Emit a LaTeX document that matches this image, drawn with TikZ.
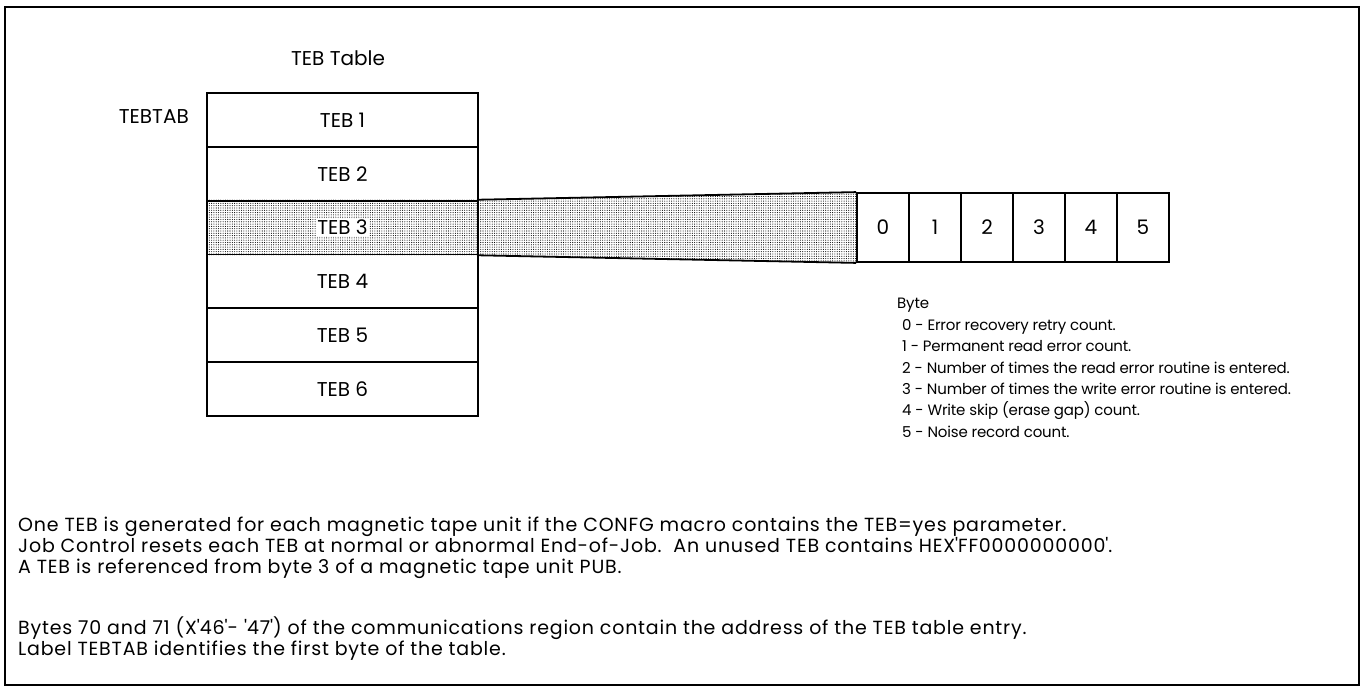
\documentclass[tikz,border=0pt]{standalone}
\usepackage{fontspec}
\setmainfont{Poppins}
\newfontfamily\notesfont{Poppins}[LetterSpace=4.2]
\newfontfamily\legendfont{Poppins}[LetterSpace=-1.2]
\usetikzlibrary{patterns.meta}
\begin{document}
\begin{tikzpicture}[x=1pt,y=-1pt,
  font=\fontsize{20}{23}\selectfont,
  frame/.style={line width=2.4pt},
  rule/.style={line width=1.8pt},
  row/.style={draw, rule, minimum width=271pt, minimum height=53.8pt, inner sep=0pt},
  cell/.style={draw, rule, minimum width=52pt, minimum height=69pt, inner sep=0pt},
  txt/.style={anchor=base west, inner sep=0pt},
  note/.style={txt, font=\notesfont\fontsize{19}{22}\selectfont},
  legend/.style={txt, font=\legendfont\fontsize{15}{18}\selectfont},
  dotfill/.style={pattern={Dots[distance=2.3pt,radius=0.55pt]}, pattern color=black}]
  \useasboundingbox (0,0) rectangle (1364,691);
  \draw[frame] (5,7) rectangle (1359,685);

  % table title and label
  \node (title) at (338,58) {TEB Table};
  \node[anchor=east, inner sep=0pt] (tebtab) at (189,117) {TEBTAB};

  % byte cells of the expanded entry
  \foreach \i in {0,...,5} {
    \node[cell] (b\i) at ({883+52*\i},227.5) {};
  }

  % table rows
  \foreach \i in {1,...,6} {
    \node[row] (t\i) at (342.5,{93+53.8*(\i-0.5)}) {};
  }

  % expansion of TEB 3 into its bytes
  \fill[dotfill] (t3.south west) rectangle (t3.north east);
  \fill[dotfill] (t3.north east) -- (b0.north west) -- (b0.south west) -- (t3.south east) -- cycle;
  \draw[rule] (t3.north east) -- (b0.north west);
  \draw[rule] (t3.south east) -- (b0.south west);
  \foreach \i in {1,...,6} { \node[row] at (t\i) {}; }
  \foreach \i in {0,...,5} { \node[cell] at (b\i) {}; }

  \foreach \i in {1,2,4,5,6} { \node at (t\i) {TEB \i}; }
  \node[fill=white, inner sep=1.5pt] (t3label) at (t3) {TEB 3};
  \foreach \i in {0,...,5} { \node at (b\i) {\i}; }

  % byte legend
  \node[legend] (byte) at (897,308) {Byte};
  \node[legend] (l0) at (902,330) {0 - Error recovery retry count.};
  \node[legend] (l1) at (902,351) {1 - Permanent read error count.};
  \node[legend] (l2) at (902,373) {2 - Number of times the read error routine is entered.};
  \node[legend] (l3) at (902,394) {3 - Number of times the write error routine is entered.};
  \node[legend] (l4) at (902,415) {4 - Write skip (erase gap) count.};
  \node[legend] (l5) at (902,437) {5 - Noise record count.};

  % notes
  \node[note] (n1) at (18,531) {One TEB is generated for each magnetic tape unit if the CONFG macro contains the TEB=yes parameter.};
  \node[note] (n2) at (18,552) {Job Control resets each TEB at normal or abnormal End-of-Job.\ \ An unused TEB contains HEX\textquotesingle FF0000000000\textquotesingle.};
  \node[note] (n3) at (18,573) {A TEB is referenced from byte 3 of a magnetic tape unit PUB.};
  \node[note] (n4) at (18,634) {Bytes 70 and 71 (X\textquotesingle 46\textquotesingle - \textquotesingle 47\textquotesingle) of the communications region contain the address of the TEB table entry.};
  \node[note] (n5) at (18,655) {Label TEBTAB identifies the first byte of the table.};
\end{tikzpicture}
\end{document}
